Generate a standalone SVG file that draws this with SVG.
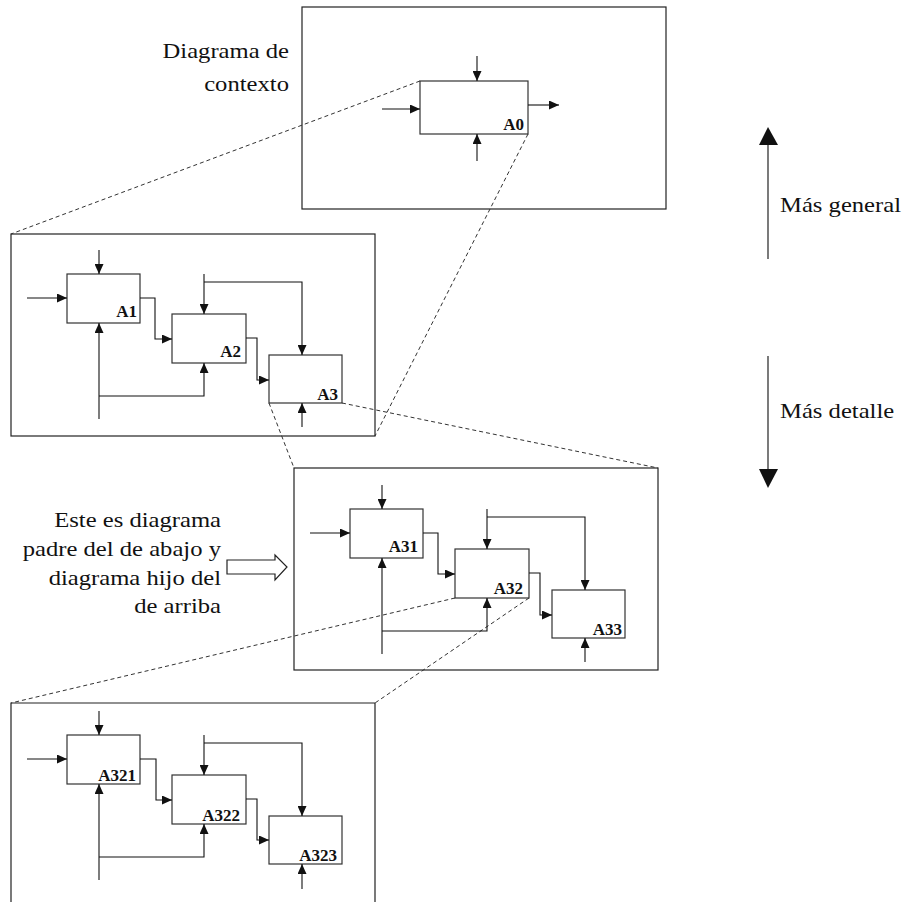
<svg xmlns="http://www.w3.org/2000/svg" width="903" height="902" viewBox="0 0 903 902">
  <defs>
    <style>
      .frame { fill: none; stroke: #222; stroke-width: 1.2; }
      .box { fill: #fff; stroke: #333; stroke-width: 1.2; }
      .lbl { font-family: "Liberation Serif", "Times New Roman", serif; font-size: 17px; font-weight: bold; fill: #111; text-anchor: end; }
      .txt { font-family: "Liberation Serif", "Times New Roman", serif; font-size: 22px; fill: #111; }
      .flow { fill: none; stroke: #111; stroke-width: 1.1; marker-end: url(#head); }
      .zoom { fill: none; stroke: #333; stroke-width: 1; stroke-dasharray: 4 3; }
      .big { fill: none; stroke: #222; stroke-width: 1.2; }
    </style>
    <marker id="head" markerUnits="userSpaceOnUse" markerWidth="10" markerHeight="9" refX="10" refY="4.5" orient="auto">
      <path d="M0,0 L10,4.5 L0,9 z" fill="#111"/>
    </marker>
  </defs>
  <rect width="903" height="902" fill="#fff"/>

  <!-- level frames -->
  <g id="frames">
    <rect class="frame" x="302" y="7" width="364" height="202"/>
    <rect class="frame" x="11" y="234" width="364" height="202"/>
    <rect class="frame" x="294" y="468" width="364" height="202"/>
    <path class="frame" d="M11,910 V703 H375 V910"/>
  </g>

  <!-- dashed expansion lines between levels -->
  <g id="expansions">
    <line class="zoom" x1="420" y1="81" x2="11" y2="234"/>
    <line class="zoom" x1="528" y1="134" x2="375" y2="436"/>
    <line class="zoom" x1="269" y1="403" x2="294" y2="468"/>
    <line class="zoom" x1="342" y1="403" x2="658" y2="468"/>
    <line class="zoom" x1="455" y1="598" x2="11" y2="703"/>
    <line class="zoom" x1="529" y1="598" x2="375" y2="703"/>
  </g>

  <!-- context level -->
  <g id="a0">
    <rect class="box" x="420" y="81" width="108" height="53"/>
    <text class="lbl" x="524" y="130">A0</text>
  </g>

  <!-- first decomposition -->
  <g id="a1">
    <rect class="box" x="67" y="274" width="73" height="49"/>
    <text class="lbl" x="137" y="317">A1</text>
  </g>
  <g id="a2">
    <rect class="box" x="172" y="314" width="74" height="49"/>
    <text class="lbl" x="241" y="357">A2</text>
  </g>
  <g id="a3">
    <rect class="box" x="269" y="355" width="73" height="48"/>
    <text class="lbl" x="338" y="400">A3</text>
  </g>

  <!-- decomposition of A3 -->
  <g id="a31">
    <rect class="box" x="350" y="509" width="73" height="49"/>
    <text class="lbl" x="418" y="552">A31</text>
  </g>
  <g id="a32">
    <rect class="box" x="455" y="549" width="74" height="49"/>
    <text class="lbl" x="523" y="594">A32</text>
  </g>
  <g id="a33">
    <rect class="box" x="552" y="590" width="73" height="48"/>
    <text class="lbl" x="622" y="635">A33</text>
  </g>

  <!-- decomposition of A32 -->
  <g id="a321">
    <rect class="box" x="67" y="735" width="73" height="49"/>
    <text class="lbl" x="136" y="781">A321</text>
  </g>
  <g id="a322">
    <rect class="box" x="172" y="775" width="74" height="49"/>
    <text class="lbl" x="240" y="821">A322</text>
  </g>
  <g id="a323">
    <rect class="box" x="269" y="816" width="73" height="48"/>
    <text class="lbl" x="337" y="861">A323</text>
  </g>

  <g id="connectors">
    <!-- A0 -->
    <path class="flow" d="M477,56 V81"/>
    <path class="flow" d="M382,109 H420"/>
    <path class="flow" d="M528,105 H559"/>
    <path class="flow" d="M477,161 V134"/>
    <!-- A1..A3 -->
    <path class="flow" d="M99,250 V274"/>
    <path class="flow" d="M27,298 H67"/>
    <path class="flow" d="M140,298 H155 V339 H172"/>
    <path class="flow" d="M204,274 V314"/>
    <path class="flow" d="M204,282 H302 V355"/>
    <path class="flow" d="M246,338 H257 V380 H269"/>
    <path class="flow" d="M99,419 V323"/>
    <path class="flow" d="M99,396 H204 V363"/>
    <path class="flow" d="M302,427 V403"/>
    <!-- A31..A33 -->
    <path class="flow" d="M382,485 V509"/>
    <path class="flow" d="M310,533 H350"/>
    <path class="flow" d="M423,533 H438 V574 H455"/>
    <path class="flow" d="M487,509 V549"/>
    <path class="flow" d="M487,517 H585 V590"/>
    <path class="flow" d="M529,573 H540 V615 H552"/>
    <path class="flow" d="M382,654 V558"/>
    <path class="flow" d="M382,631 H487 V598"/>
    <path class="flow" d="M585,662 V638"/>
    <!-- A321..A323 -->
    <path class="flow" d="M99,711 V735"/>
    <path class="flow" d="M27,759 H67"/>
    <path class="flow" d="M140,759 H156 V800 H172"/>
    <path class="flow" d="M204,735 V775"/>
    <path class="flow" d="M204,743 H302 V816"/>
    <path class="flow" d="M246,799 H257 V840 H269"/>
    <path class="flow" d="M99,880 V784"/>
    <path class="flow" d="M99,857 H204 V824"/>
    <path class="flow" d="M302,889 V864"/>
  </g>

  <!-- captions -->
  <g id="caption-context" class="txt" text-anchor="end">
    <text transform="translate(289,58) scale(1.12 1)">Diagrama de</text>
    <text transform="translate(289,91) scale(1.12 1)">contexto</text>
  </g>
  <g id="caption-parent" class="txt" text-anchor="end">
    <text transform="translate(221,527) scale(1.12 1)">Este es diagrama</text>
    <text transform="translate(221,556) scale(1.12 1)">padre del de abajo y</text>
    <text transform="translate(221,585) scale(1.12 1)">diagrama hijo del</text>
    <text transform="translate(221,613) scale(1.12 1)">de arriba</text>
  </g>
  <g id="pointer">
    <path class="big" d="M227,560 H275 V555 L287,567 L275,580 V574 H227 Z" fill="#fff"/>
  </g>

  <!-- direction scale -->
  <g id="more-general">
    <line class="big" x1="768" y1="259" x2="768" y2="144"/>
    <polygon points="768,127 759,145 778,145" fill="#111"/>
    <text class="txt" transform="translate(780,212) scale(1.12 1)">Más general</text>
  </g>
  <g id="more-detail">
    <line class="big" x1="768" y1="356" x2="768" y2="470"/>
    <polygon points="768,488 759,469 778,469" fill="#111"/>
    <text class="txt" transform="translate(780,418) scale(1.12 1)">Más detalle</text>
  </g>
</svg>
